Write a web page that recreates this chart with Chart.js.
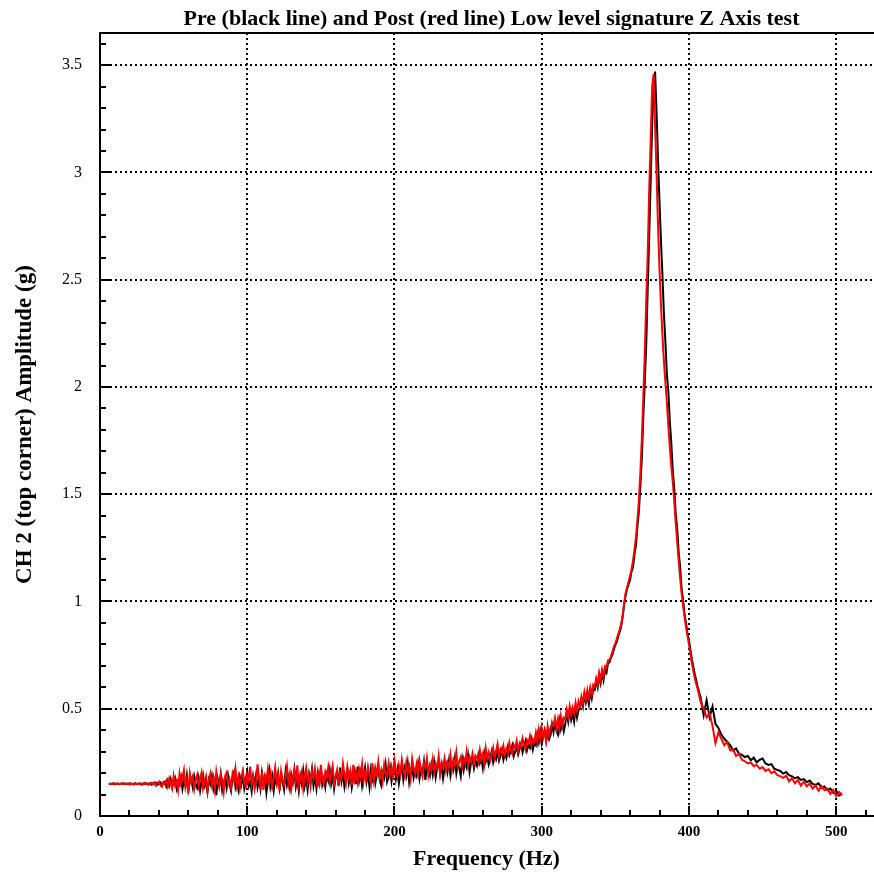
<!DOCTYPE html>
<html>
<head>
<meta charset="utf-8">
<script src="https://cdn.jsdelivr.net/npm/chart.js@4.4.0/dist/chart.umd.min.js"></script>
<style>
  html, body { margin: 0; padding: 0; background: #fff; }
  #wrap { width: 874px; height: 881px; position: relative; }
</style>
</head>
<body>
<div id="wrap"><canvas id="chart"></canvas></div>
<script>
// Chart text
const chartTitle = 'Pre (black line) and Post (red line) Low level signature Z Axis test';
const xTitle = 'Frequency (Hz)';
const yTitle = 'CH 2 (top corner) Amplitude (g)';

// Axis ticks
const xMajorTicks = [0, 100, 200, 300, 400, 500];
const yMajorTicks = [0, 0.5, 1, 1.5, 2, 2.5, 3, 3.5];

// Pre test (black line), 6..359 Hz every 1 Hz
const preLow = [
  0.151, 0.149, 0.150, 0.152, 0.148, 0.150, 0.151, 0.149, 0.150, 0.152,
  0.149, 0.151, 0.150, 0.148, 0.152, 0.150, 0.149, 0.151, 0.153, 0.148,
  0.150, 0.152, 0.147, 0.151, 0.149, 0.153, 0.148, 0.150, 0.152, 0.146,
  0.153, 0.149, 0.155, 0.145, 0.151, 0.157, 0.143, 0.154, 0.160, 0.139,
  0.165, 0.142, 0.171, 0.135, 0.158, 0.176, 0.130, 0.162, 0.148, 0.181,
  0.127, 0.166, 0.140, 0.189, 0.121, 0.158, 0.172, 0.134, 0.183, 0.146,
  0.131, 0.175, 0.119, 0.162, 0.190, 0.138, 0.155, 0.112, 0.170, 0.149,
  0.185, 0.128, 0.163, 0.097, 0.172, 0.140, 0.194, 0.121, 0.158, 0.176,
  0.133, 0.189, 0.150, 0.118, 0.177, 0.203, 0.136, 0.164, 0.125, 0.182,
  0.148, 0.196, 0.130, 0.171, 0.207, 0.139, 0.158, 0.115, 0.184, 0.152,
  0.193, 0.134, 0.170, 0.126, 0.201, 0.155, 0.178, 0.109, 0.166, 0.212,
  0.141, 0.183, 0.120, 0.175, 0.150, 0.198, 0.133, 0.186, 0.162, 0.124,
  0.205, 0.146, 0.179, 0.131, 0.190, 0.158, 0.214, 0.137, 0.172, 0.118,
  0.187, 0.151, 0.209, 0.139, 0.176, 0.123, 0.195, 0.163, 0.218, 0.142,
  0.181, 0.129, 0.200, 0.157, 0.222, 0.146, 0.174, 0.135, 0.193, 0.166,
  0.214, 0.150, 0.188, 0.127, 0.179, 0.203, 0.142, 0.226, 0.161, 0.196,
  0.138, 0.185, 0.219, 0.155, 0.197, 0.133, 0.176, 0.209, 0.148, 0.230,
  0.164, 0.202, 0.141, 0.188, 0.226, 0.159, 0.197, 0.137, 0.214, 0.172,
  0.208, 0.153, 0.194, 0.232, 0.166, 0.143, 0.201, 0.179, 0.238, 0.160,
  0.182, 0.224, 0.163, 0.210, 0.247, 0.175, 0.216, 0.152, 0.199, 0.236,
  0.171, 0.222, 0.188, 0.245, 0.160, 0.208, 0.233, 0.179, 0.214, 0.190,
  0.242, 0.176, 0.219, 0.197, 0.251, 0.168, 0.226, 0.205, 0.187, 0.238,
  0.193, 0.247, 0.182, 0.226, 0.259, 0.198, 0.234, 0.175, 0.219, 0.243,
  0.205, 0.258, 0.190, 0.236, 0.214, 0.268, 0.200, 0.245, 0.222, 0.187,
  0.262, 0.214, 0.251, 0.228, 0.279, 0.206, 0.248, 0.266, 0.222, 0.255,
  0.236, 0.283, 0.247, 0.270, 0.225, 0.292, 0.254, 0.276, 0.240, 0.268,
  0.299, 0.252, 0.288, 0.266, 0.305, 0.259, 0.281, 0.310, 0.262, 0.290,
  0.271, 0.318, 0.284, 0.306, 0.329, 0.279, 0.301, 0.322, 0.288, 0.312,
  0.338, 0.297, 0.325, 0.349, 0.306, 0.333, 0.318, 0.356, 0.310, 0.341,
  0.330, 0.381, 0.345, 0.392, 0.338, 0.374, 0.401, 0.349, 0.386, 0.358,
  0.378, 0.428, 0.392, 0.441, 0.398, 0.380, 0.446, 0.405, 0.437, 0.396,
  0.430, 0.481, 0.441, 0.492, 0.448, 0.478, 0.440, 0.503, 0.459, 0.494,
  0.503, 0.545, 0.512, 0.566, 0.529, 0.560, 0.522, 0.583, 0.549, 0.594,
  0.588, 0.631, 0.600, 0.652, 0.618, 0.667, 0.633, 0.680, 0.668, 0.712,
  0.716, 0.738, 0.751, 0.776, 0.798, 0.812, 0.839, 0.858, 0.885, 0.930,
  0.985, 1.030, 1.058, 1.081
];
// 360..399 Hz every 1 Hz
const prePeak = [
  1.10, 1.14, 1.16, 1.22, 1.26, 1.35, 1.42, 1.54, 1.67, 1.86,
  2.02, 2.20, 2.46, 2.70, 2.96, 3.22, 3.41, 3.47, 3.28, 3.06,
  2.86, 2.68, 2.52, 2.34, 2.21, 2.06, 1.98, 1.84, 1.74, 1.61,
  1.53, 1.41, 1.34, 1.23, 1.16, 1.06, 1.01, 0.94, 0.90, 0.85
];
// 400..504 Hz every 2 Hz
const preHigh = [
  0.82, 0.73, 0.66, 0.60, 0.55, 0.47, 0.54, 0.46, 0.51, 0.43,
  0.41, 0.38, 0.36, 0.345, 0.33, 0.305, 0.315, 0.29, 0.285, 0.275,
  0.28, 0.26, 0.272, 0.25, 0.262, 0.268, 0.245, 0.238, 0.242, 0.22,
  0.215, 0.21, 0.198, 0.205, 0.19, 0.185, 0.176, 0.181, 0.168, 0.172,
  0.158, 0.165, 0.15, 0.145, 0.152, 0.132, 0.138, 0.12, 0.128, 0.108,
  0.118, 0.095, 0.105
];

// Post test (red line), same frequencies
const postLow = [
  0.149, 0.151, 0.148, 0.150, 0.152, 0.149, 0.151, 0.147, 0.150, 0.151,
  0.152, 0.148, 0.150, 0.151, 0.147, 0.152, 0.150, 0.146, 0.151, 0.149,
  0.148, 0.153, 0.150, 0.146, 0.154, 0.149, 0.152, 0.145, 0.151, 0.155,
  0.147, 0.156, 0.141, 0.152, 0.160, 0.144, 0.136, 0.158, 0.149, 0.165,
  0.138, 0.174, 0.152, 0.128, 0.186, 0.143, 0.162, 0.120, 0.195, 0.150,
  0.178, 0.214, 0.136, 0.171, 0.108, 0.199, 0.158, 0.184, 0.125, 0.166,
  0.192, 0.140, 0.175, 0.203, 0.129, 0.161, 0.185, 0.117, 0.170, 0.198,
  0.145, 0.179, 0.122, 0.206, 0.160, 0.136, 0.190, 0.171, 0.114, 0.187,
  0.203, 0.149, 0.172, 0.131, 0.195, 0.166, 0.220, 0.142, 0.181, 0.128,
  0.176, 0.209, 0.155, 0.137, 0.193, 0.168, 0.230, 0.147, 0.183, 0.126,
  0.160, 0.241, 0.174, 0.139, 0.205, 0.122, 0.186, 0.163, 0.218, 0.151,
  0.199, 0.138, 0.175, 0.226, 0.157, 0.190, 0.117, 0.208, 0.172, 0.145,
  0.183, 0.231, 0.152, 0.196, 0.129, 0.174, 0.212, 0.160, 0.236, 0.141,
  0.169, 0.203, 0.128, 0.187, 0.224, 0.155, 0.192, 0.140, 0.210, 0.176,
  0.221, 0.158, 0.193, 0.137, 0.239, 0.170, 0.149, 0.205, 0.181, 0.226,
  0.160, 0.197, 0.233, 0.148, 0.185, 0.214, 0.139, 0.202, 0.176, 0.244,
  0.192, 0.152, 0.227, 0.181, 0.210, 0.144, 0.238, 0.169, 0.199, 0.157,
  0.218, 0.183, 0.241, 0.161, 0.205, 0.176, 0.229, 0.190, 0.150, 0.247,
  0.170, 0.225, 0.196, 0.251, 0.180, 0.212, 0.164, 0.239, 0.201, 0.186,
  0.243, 0.192, 0.228, 0.170, 0.256, 0.208, 0.183, 0.235, 0.197, 0.262,
  0.214, 0.185, 0.248, 0.202, 0.231, 0.176, 0.265, 0.219, 0.194, 0.240,
  0.199, 0.258, 0.215, 0.186, 0.246, 0.225, 0.270, 0.193, 0.236, 0.212,
  0.265, 0.207, 0.243, 0.222, 0.278, 0.198, 0.251, 0.230, 0.268, 0.212,
  0.249, 0.226, 0.283, 0.215, 0.262, 0.239, 0.296, 0.228, 0.254, 0.274,
  0.231, 0.269, 0.247, 0.301, 0.238, 0.276, 0.255, 0.290, 0.243, 0.282,
  0.272, 0.251, 0.306, 0.263, 0.289, 0.244, 0.315, 0.270, 0.297, 0.259,
  0.286, 0.318, 0.271, 0.302, 0.335, 0.279, 0.309, 0.291, 0.326, 0.284,
  0.314, 0.296, 0.341, 0.305, 0.289, 0.332, 0.315, 0.350, 0.302, 0.338,
  0.321, 0.362, 0.335, 0.311, 0.355, 0.340, 0.372, 0.329, 0.358, 0.345,
  0.388, 0.345, 0.402, 0.360, 0.411, 0.366, 0.394, 0.352, 0.418, 0.375,
  0.412, 0.428, 0.420, 0.456, 0.411, 0.452, 0.406, 0.466, 0.424, 0.458,
  0.452, 0.497, 0.462, 0.512, 0.471, 0.505, 0.477, 0.528, 0.490, 0.535,
  0.512, 0.556, 0.527, 0.577, 0.543, 0.588, 0.552, 0.598, 0.566, 0.612,
  0.603, 0.641, 0.612, 0.668, 0.633, 0.682, 0.652, 0.698, 0.692, 0.726,
  0.728, 0.742, 0.765, 0.789, 0.805, 0.826, 0.848, 0.870, 0.896, 0.938,
  0.992, 1.040, 1.066, 1.092
];
const postPeak = [
  1.12, 1.15, 1.19, 1.24, 1.30, 1.38, 1.47, 1.60, 1.76, 1.95,
  2.16, 2.40, 2.62, 2.92, 3.15, 3.40, 3.46, 3.22, 3.00, 2.75,
  2.55, 2.38, 2.24, 2.12, 2.02, 1.93, 1.82, 1.72, 1.63, 1.56,
  1.47, 1.37, 1.28, 1.19, 1.11, 1.04, 0.98, 0.93, 0.88, 0.84
];
const postHigh = [
  0.80, 0.71, 0.64, 0.59, 0.53, 0.50, 0.46, 0.48, 0.42, 0.34,
  0.39, 0.36, 0.33, 0.345, 0.305, 0.31, 0.28, 0.29, 0.262, 0.255,
  0.245, 0.25, 0.232, 0.238, 0.22, 0.228, 0.21, 0.218, 0.20, 0.208,
  0.19, 0.186, 0.178, 0.188, 0.162, 0.176, 0.152, 0.168, 0.142, 0.16,
  0.138, 0.152, 0.128, 0.142, 0.118, 0.14, 0.12, 0.128, 0.103, 0.122,
  0.092, 0.112, 0.098
];

// Sample frequencies for the three segments
const freqLow = [];
for (let f = 6; f <= 359; f += 1) freqLow.push(f);
const freqPeak = [];
for (let f = 360; f <= 399; f += 1) freqPeak.push(f);
const freqHigh = [];
for (let f = 400; f <= 504; f += 2) freqHigh.push(f);

const freqs = freqLow.concat(freqPeak, freqHigh);
const preValues = preLow.concat(prePeak, preHigh);
const postValues = postLow.concat(postPeak, postHigh);

function toPoints(values) {
  return values.map((v, i) => ({ x: freqs[i], y: v }));
}

// Dotted grid under the data, solid axes with inward ticks on top
const framePlugin = {
  id: 'frame',
  beforeDatasetsDraw(chart) {
    const { ctx, chartArea: a, scales: { x, y } } = chart;
    ctx.save();
    ctx.strokeStyle = '#000';
    ctx.lineWidth = 2;
    ctx.setLineDash([2, 3]);
    xMajorTicks.forEach(v => {
      if (v === 0) return;
      const px = Math.round(x.getPixelForValue(v));
      ctx.beginPath();
      ctx.moveTo(px, a.top);
      ctx.lineTo(px, a.bottom);
      ctx.stroke();
    });
    yMajorTicks.forEach(v => {
      if (v === 0) return;
      const py = Math.round(y.getPixelForValue(v));
      ctx.beginPath();
      ctx.moveTo(a.left, py);
      ctx.lineTo(a.right, py);
      ctx.stroke();
    });
    ctx.restore();
  },
  afterDatasetsDraw(chart) {
    const { ctx, chartArea: a, scales: { x, y } } = chart;
    ctx.save();
    ctx.strokeStyle = '#000';
    ctx.lineWidth = 2;
    // minor and major ticks on the x axis (every 20 Hz)
    for (let v = 20; v <= x.max; v += 20) {
      const px = Math.round(x.getPixelForValue(v));
      const len = v % 100 === 0 ? 10 : 6;
      ctx.beginPath();
      ctx.moveTo(px, a.bottom);
      ctx.lineTo(px, a.bottom - len);
      ctx.stroke();
    }
    // minor and major ticks on the y axis (every 0.1)
    for (let k = 1; k * 0.1 <= y.max; k++) {
      const py = Math.round(y.getPixelForValue(k * 0.1));
      const len = k % 5 === 0 ? 10 : 6;
      ctx.beginPath();
      ctx.moveTo(a.left, py);
      ctx.lineTo(a.left + len, py);
      ctx.stroke();
    }
    // axis lines: left, bottom, top
    ctx.beginPath();
    ctx.moveTo(a.left, a.top);
    ctx.lineTo(a.left, a.bottom);
    ctx.moveTo(a.left - 1, a.bottom);
    ctx.lineTo(chart.width, a.bottom);
    ctx.moveTo(a.left - 1, a.top);
    ctx.lineTo(chart.width, a.top);
    ctx.stroke();
    // chart title, centred over the plot
    ctx.fillStyle = '#000';
    ctx.font = 'bold 22px "Liberation Serif", serif';
    ctx.textAlign = 'center';
    ctx.textBaseline = 'alphabetic';
    ctx.fillText(chartTitle, (a.left + a.right) / 2 + 5, 25);
    ctx.restore();
  }
};

Chart.defaults.font.family = '"Liberation Serif", "Times New Roman", serif';
Chart.defaults.color = '#000';

new Chart(document.getElementById('chart'), {
  type: 'line',
  data: {
    datasets: [
      {
        label: 'Post',
        data: toPoints(postValues),
        borderColor: '#ff0000',
        borderWidth: 2,
        pointRadius: 0,
        tension: 0,
        order: 0
      },
      {
        label: 'Pre',
        data: toPoints(preValues),
        borderColor: '#000000',
        borderWidth: 2,
        pointRadius: 0,
        tension: 0,
        order: 1
      }
    ]
  },
  options: {
    responsive: true,
    maintainAspectRatio: false,
    animation: false,
    layout: { padding: { top: 33, right: 1, left: 0, bottom: 0 } },
    plugins: {
      legend: { display: false },
      tooltip: { enabled: false },
      title: { display: false }
    },
    scales: {
      x: {
        type: 'linear',
        min: 0,
        max: 525,
        grid: { display: false, drawTicks: false },
        border: { display: false },
        ticks: {
          stepSize: 100,
          includeBounds: false,
          padding: 7,
          font: { size: 15, weight: 'bold' }
        },
        title: {
          display: true,
          text: xTitle,
          font: { size: 22, weight: 'bold' },
          padding: { top: 0, bottom: 8 }
        },
        afterFit(scale) { scale.height = 65; }
      },
      y: {
        type: 'linear',
        min: 0,
        max: 3.65,
        grid: { display: false, drawTicks: false },
        border: { display: false },
        ticks: {
          stepSize: 0.5,
          includeBounds: false,
          padding: 18,
          font: { size: 16 },
          callback: v => String(v)
        },
        title: {
          display: true,
          text: yTitle,
          font: { size: 23, weight: 'bold' },
          padding: { top: 11, bottom: 0 }
        },
        afterFit(scale) { scale.width = 100; }
      }
    }
  },
  plugins: [framePlugin]
});
</script>
</body>
</html>
